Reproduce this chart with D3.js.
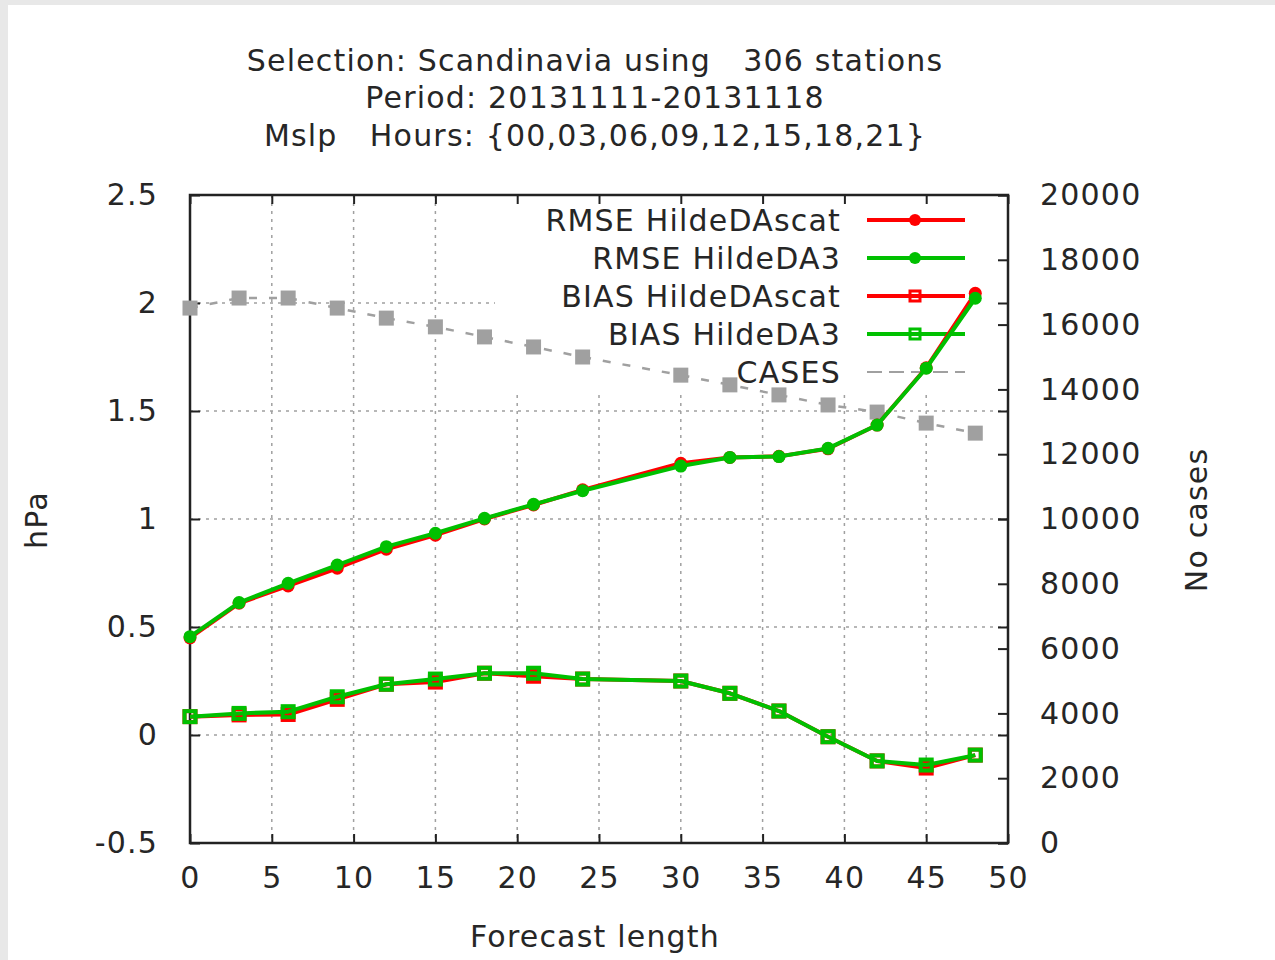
<!DOCTYPE html>
<html lang="en">
<head>
  <meta charset="UTF-8">
  <title>Mslp verification</title>
  <script src="https://d3js.org/d3.v7.min.js"></script>
  <style>
    body { margin: 0; background: #e8e8e8; }
    svg text { font-family: "DejaVu Sans", sans-serif; fill: #262626; white-space: pre; letter-spacing: 1.2px; }
  </style>
</head>
<body>
  <svg id="chart" width="1275" height="960"></svg>
  <script>
    // forecast lengths (hours) - note there is no 27h value
    const hours = [0, 3, 6, 9, 12, 15, 18, 21, 24, 30, 33, 36, 39, 42, 45, 48];
    const rmseScat = [0.45, 0.61, 0.69, 0.772, 0.86, 0.925, 1.0, 1.065, 1.135, 1.258, 1.285, 1.29, 1.325, 1.435, 1.70, 2.045];
    const rmseDA3 = [0.455, 0.613, 0.702, 0.787, 0.872, 0.934, 1.003, 1.068, 1.131, 1.245, 1.285, 1.289, 1.327, 1.435, 1.698, 2.022];
    const biasScat = [0.085, 0.093, 0.095, 0.165, 0.235, 0.245, 0.286, 0.272, 0.259, 0.25, 0.193, 0.111, -0.008, -0.12, -0.153, -0.093];
    const biasDA3 = [0.085, 0.10, 0.108, 0.177, 0.235, 0.259, 0.286, 0.286, 0.259, 0.25, 0.193, 0.111, -0.008, -0.12, -0.139, -0.093];
    const cases = [16510, 16820, 16820, 16510, 16200, 15930, 15620, 15310, 15000, 14440, 14140, 13830, 13520, 13300, 12960, 12650];

    const titleLines = ['Selection: Scandinavia using   306 stations', 'Period: 20131111-20131118', 'Mslp   Hours: {00,03,06,09,12,15,18,21}'];
    const xTicks = [0, 5, 10, 15, 20, 25, 30, 35, 40, 45, 50];
    const yTicks = [-0.5, 0, 0.5, 1, 1.5, 2, 2.5];
    const y2Ticks = [0, 2000, 4000, 6000, 8000, 10000, 12000, 14000, 16000, 18000, 20000];

    const RED = '#ff0000', GREEN = '#00c000', GREY = '#a0a0a0';
    const FS = 30;

    const series = [
      { name: 'RMSE HildeDAscat', values: rmseScat, color: RED, marker: 'dot' },
      { name: 'RMSE HildeDA3', values: rmseDA3, color: GREEN, marker: 'dot' },
      { name: 'BIAS HildeDAscat', values: biasScat, color: RED, marker: 'box' },
      { name: 'BIAS HildeDA3', values: biasDA3, color: GREEN, marker: 'box' }
    ];

    const svg = d3.select('#chart');
    svg.append('rect').attr('x', 8).attr('y', 5).attr('width', 1267).attr('height', 955).attr('fill', '#fff');

    const pLeft = 190, pRight = 1008, pTop = 195, pBottom = 843;
    const x = d3.scaleLinear().domain([0, 50]).range([pLeft, pRight]);
    const y = d3.scaleLinear().domain([-0.5, 2.5]).range([pBottom, pTop]);
    const y2 = d3.scaleLinear().domain([0, 20000]).range([pBottom, pTop]);

    // title
    svg.append('g').selectAll('text')
      .data(titleLines)
      .enter().append('text')
      .attr('x', 595)
      .attr('y', (d, i) => 60 + i * 37.5)
      .attr('dy', '0.35em')
      .attr('text-anchor', 'middle')
      .style('font-size', FS + 'px')
      .text(d => d);

    // grid
    const grid = svg.append('g')
      .attr('stroke', GREY).attr('stroke-width', 1.5).attr('stroke-dasharray', '3,5');
    grid.selectAll('.gx').data(xTicks.slice(1, -1)).enter().append('line')
      .attr('x1', d => x(d)).attr('x2', d => x(d)).attr('y1', pTop).attr('y2', pBottom);
    grid.selectAll('.gy').data(yTicks.slice(1, -1)).enter().append('line')
      .attr('x1', pLeft).attr('x2', pRight).attr('y1', d => y(d)).attr('y2', d => y(d));

    // opaque key area hides the grid
    svg.append('rect').attr('x', 495).attr('y', pTop).attr('width', pRight - 495).attr('height', 196).attr('fill', '#fff');

    // axes
    const styleAxis = g => {
      g.select('.domain').remove();
      g.selectAll('.tick line').attr('stroke', '#222').attr('stroke-width', 2);
      g.selectAll('.tick text').style('font-size', FS + 'px').style('font-family', '"DejaVu Sans", sans-serif').attr('fill', '#262626');
    };
    svg.append('g').attr('transform', `translate(0,${pBottom})`)
      .call(d3.axisBottom(x).tickValues(xTicks).tickFormat(d3.format('d')).tickSize(-9).tickPadding(24))
      .call(styleAxis);
    svg.append('g').attr('transform', `translate(0,${pTop})`)
      .call(d3.axisTop(x).tickValues(xTicks).tickFormat('').tickSize(-9))
      .call(styleAxis);
    svg.append('g').attr('transform', `translate(${pLeft},0)`)
      .call(d3.axisLeft(y).tickValues(yTicks).tickFormat(d => d).tickSize(-10).tickPadding(32))
      .call(styleAxis);
    svg.append('g').attr('transform', `translate(${pRight},0)`)
      .call(d3.axisRight(y).tickValues(yTicks).tickFormat('').tickSize(-10))
      .call(styleAxis);
    svg.append('g').attr('transform', `translate(${pRight},0)`)
      .call(d3.axisRight(y2).tickValues(y2Ticks).tickFormat(d3.format('d')).tickSize(-10).tickPadding(32))
      .call(styleAxis);

    svg.append('rect')
      .attr('x', pLeft).attr('y', pTop).attr('width', pRight - pLeft).attr('height', pBottom - pTop)
      .attr('fill', 'none').attr('stroke', '#222').attr('stroke-width', 2.5);

    // axis titles
    svg.append('text').attr('transform', 'translate(36,520) rotate(-90)')
      .attr('text-anchor', 'middle').attr('dy', '0.35em').style('font-size', FS + 'px').text('hPa');
    svg.append('text').attr('transform', 'translate(1196,520) rotate(-90)')
      .attr('text-anchor', 'middle').attr('dy', '0.35em').style('font-size', FS + 'px').text('No cases');
    svg.append('text').attr('x', 595).attr('y', 936).attr('dy', '0.35em')
      .attr('text-anchor', 'middle').style('font-size', FS + 'px').text('Forecast length');

    // legend
    const keyY = i => 220 + i * 38;
    const key = svg.append('g');
    const keyItems = series.concat([{ name: 'CASES', color: GREY, marker: 'cases' }]);
    keyItems.forEach((s, i) => {
      key.append('text').attr('x', 841).attr('y', keyY(i)).attr('dy', '0.35em')
        .attr('text-anchor', 'end').style('font-size', FS + 'px').text(s.name);
      key.append('line').attr('x1', 867).attr('x2', 965).attr('y1', keyY(i)).attr('y2', keyY(i))
        .attr('stroke', s.color).attr('stroke-width', s.marker === 'cases' ? 2 : 4)
        .attr('stroke-dasharray', s.marker === 'cases' ? '15,7' : null);
      if (s.marker === 'dot') {
        key.append('circle').attr('cx', 915).attr('cy', keyY(i)).attr('r', 6).attr('fill', s.color);
      } else if (s.marker === 'box') {
        key.append('rect').attr('x', 910).attr('y', keyY(i) - 5).attr('width', 10).attr('height', 10)
          .attr('fill', 'none').attr('stroke', s.color).attr('stroke-width', 3);
      }
    });

    // cases on right axis
    const casesData = hours.map((h, i) => ({ h, v: cases[i] }));
    svg.append('path').datum(casesData)
      .attr('fill', 'none').attr('stroke', GREY).attr('stroke-width', 2.5).attr('stroke-dasharray', '8,12')
      .attr('d', d3.line().x(d => x(d.h)).y(d => y2(d.v)));
    svg.append('g').selectAll('rect').data(casesData).enter().append('rect')
      .attr('x', d => x(d.h) - 7.5).attr('y', d => y2(d.v) - 7.5)
      .attr('width', 15).attr('height', 15).attr('fill', GREY);

    // rmse / bias series
    const line = d3.line().x(d => x(d.h)).y(d => y(d.v));
    series.forEach(s => {
      const data = hours.map((h, i) => ({ h, v: s.values[i] }));
      const g = svg.append('g');
      g.append('path').datum(data).attr('fill', 'none')
        .attr('stroke', s.color).attr('stroke-width', 4).attr('stroke-linejoin', 'round').attr('d', line);
      if (s.marker === 'dot') {
        g.selectAll('circle').data(data).enter().append('circle')
          .attr('cx', d => x(d.h)).attr('cy', d => y(d.v)).attr('r', 6.5).attr('fill', s.color);
      } else {
        g.selectAll('rect').data(data).enter().append('rect')
          .attr('x', d => x(d.h) - 5.5).attr('y', d => y(d.v) - 5.5).attr('width', 11).attr('height', 11)
          .attr('fill', 'none').attr('stroke', s.color).attr('stroke-width', 4);
      }
    });
  </script>
</body>
</html>
